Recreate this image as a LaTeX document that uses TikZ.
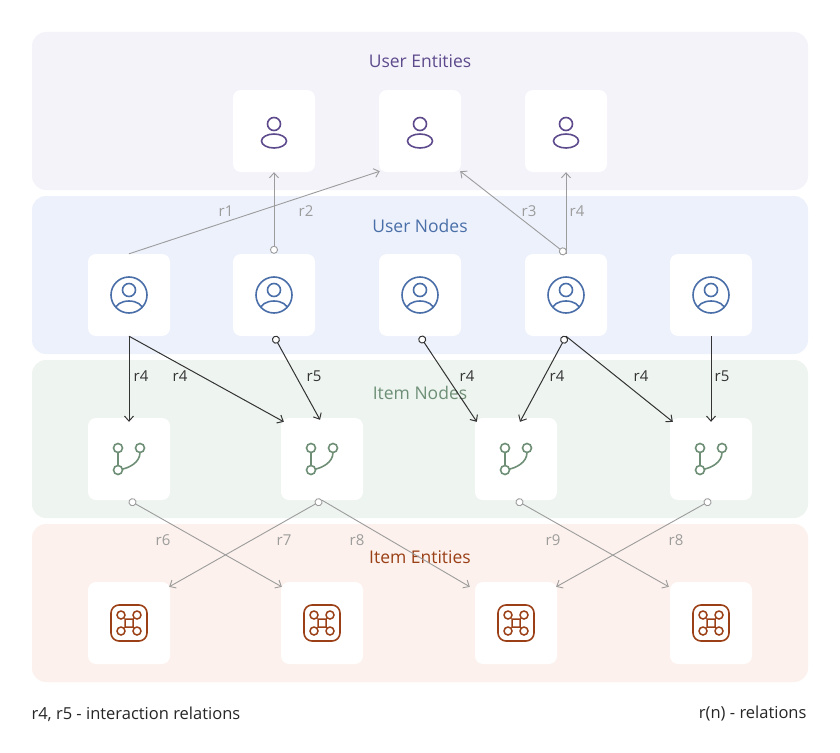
\documentclass[tikz,border=0pt]{standalone}
\usepackage{fontspec}
\setmainfont{Open Sans}
\usetikzlibrary{arrows.meta, calc, backgrounds}

\definecolor{ueband}{HTML}{F5F3FA}
\definecolor{unband}{HTML}{EDF1FC}
\definecolor{inband}{HTML}{EEF4F0}
\definecolor{ieband}{HTML}{FCF1EC}
\definecolor{uecol}{HTML}{5D4A8C}
\definecolor{uncol}{HTML}{4A6FA8}
\definecolor{incol}{HTML}{6E8F76}
\definecolor{iecol}{HTML}{9A3F16}
\definecolor{relgray}{HTML}{9C9C9C}
\definecolor{reldark}{HTML}{333333}

\tikzset{
  band/.style={fill=#1, rounded corners=14pt, draw=none},
  box/.style={fill=white, rounded corners=8pt, minimum width=82pt, minimum height=82pt, inner sep=0pt},
  title/.style={font=\fontsize{17.5}{20}\selectfont, text=#1},
  rel/.style={font=\fontsize{15}{17}\selectfont, text=#1},
  soft/.style={draw=relgray, line width=0.9pt, -{Straight Barb[length=5pt,width=9pt]}},
  hard/.style={draw=reldark, line width=1pt, -{Straight Barb[length=5pt,width=9pt]}},
  dot/.style={{Circle[open,length=8pt,width=8pt,fill=white]}-{Straight Barb[length=5pt,width=9pt]}},
  foot/.style={font=\fontsize{16.5}{19}\selectfont, text=black!85}
}

\begin{document}
\begin{tikzpicture}[x=1pt, y=-1pt]
  \useasboundingbox (0,0) rectangle (840,752);
  \fill[white] (0,0) rectangle (840,752);

  % bands
  \fill[band=ueband] (32,32) rectangle (808,190);
  \fill[band=unband] (32,196) rectangle (808,354);
  \fill[band=inband] (32,360) rectangle (808,518);
  \fill[band=ieband] (32,524) rectangle (808,682);

  \node[title=uecol] (tue) at (420,61) {User Entities};
  \node[title=uncol] (tun) at (420,226) {User Nodes};
  \node[title=incol] (tin) at (420,393) {Item Nodes};
  \node[title=iecol] (tie) at (420,557) {Item Entities};

  % boxes
  \foreach \n/\x in {1/274, 2/420, 3/566} {
    \node[box] (ue\n) at (\x,131) {};
    \draw[uecol, line width=1.6pt] ($(ue\n)+(0,-7)$) circle (6.5);
    \draw[uecol, line width=1.6pt] ($(ue\n)+(0,10)$) ellipse (12.5 and 7);
  }
  \foreach \n/\x in {1/129, 2/274, 3/420, 4/566, 5/711} {
    \node[box] (un\n) at (\x,295) {};
    \draw[uncol, line width=1.6pt] (un\n) circle (18);
    \draw[uncol, line width=1.6pt] ($(un\n)+(0,-5)$) circle (6.5);
    \begin{scope}
      \clip (un\n) circle (18);
      \draw[uncol, line width=1.6pt] ($(un\n)+(0,15)$) ellipse (14 and 9);
    \end{scope}
  }
  \foreach \n/\x in {1/129, 2/322, 3/516, 4/711} {
    \node[box] (in\n) at (\x,459) {};
    \draw[incol, line width=1.6pt]
      ($(in\n)+(-11,-11)$) circle (4.5) ($(in\n)+(11,-11)$) circle (4.5) ($(in\n)+(-11,11)$) circle (4.5)
      ($(in\n)+(-11,-6.5)$) -- ($(in\n)+(-11,6.5)$)
      ($(in\n)+(11,-6.5)$) .. controls ($(in\n)+(11,4)$) and ($(in\n)+(-1,9)$) .. ($(in\n)+(-6.5,10)$);
    \node[box] (ie\n) at (\x,623) {};
    \draw[iecol, line width=1.6pt, rounded corners=8pt] ($(ie\n)+(-18,-18)$) rectangle ($(ie\n)+(18,18)$);
    \draw[iecol, line width=1.5pt]
      ($(ie\n)+(-4,-4)$) rectangle ($(ie\n)+(4,4)$)
      ($(ie\n)+(-8,-8)$) circle (4) ($(ie\n)+(8,-8)$) circle (4)
      ($(ie\n)+(-8,8)$) circle (4) ($(ie\n)+(8,8)$) circle (4);
  }

  % user nodes -> user entities
  \draw[soft] (un1.north) -- ([xshift=1pt,yshift=1pt]ue2.south west);
  \draw[soft, dot] (un2.north) -- (ue1.south);
  \draw[soft, dot] (un4.north) -- ([xshift=-1pt,yshift=1pt]ue2.south east);
  \draw[soft] (un4.north) -- (ue3.south);
  \node[rel=relgray] (l1) at (226,211) {r1};
  \node[rel=relgray] (l2) at (306,211) {r2};
  \node[rel=relgray] (l3) at (529,211) {r3};
  \node[rel=relgray] (l4) at (577,211) {r4};

  % user nodes -> item nodes
  \draw[hard] (un1.south) -- ([yshift=-4pt]in1.north);
  \draw[hard] (un1.south) -- ([xshift=3pt,yshift=-4pt]in2.north west);
  \draw[hard, dot] (un2.south) -- ([xshift=-2pt,yshift=-2pt]in2.north);
  \draw[hard, dot] (un3.south) -- ([xshift=2pt,yshift=-4pt]in3.north west);
  \draw[hard, dot] (un4.south) -- ([xshift=4pt,yshift=-4pt]in3.north);
  \draw[hard] (un4.south) -- ([xshift=3pt,yshift=-4pt]in4.north west);
  \draw[hard] (un5.south) -- ([yshift=-4pt]in4.north);
  \node[rel=reldark] (l5) at (141,376) {r4};
  \node[rel=reldark] (l6) at (180,376) {r4};
  \node[rel=reldark] (l7) at (314,376) {r5};
  \node[rel=reldark] (l8) at (467,376) {r4};
  \node[rel=reldark] (l9) at (557,376) {r4};
  \node[rel=reldark] (l10) at (641,376) {r4};
  \node[rel=reldark] (l11) at (722,376) {r5};

  % item nodes -> item entities
  \draw[soft, dot] (in1.south) -- ([xshift=1pt,yshift=-5pt]ie2.north west);
  \draw[soft, dot] (in2.south) -- ([xshift=-1pt,yshift=-5pt]ie1.north east);
  \draw[soft] (in2.south) -- ([xshift=-5pt,yshift=-5pt]ie3.north west);
  \draw[soft, dot] (in3.south) -- ([xshift=-1pt,yshift=-5pt]ie4.north west);
  \draw[soft, dot] (in4.south) -- ([xshift=-1pt,yshift=-5pt]ie3.north east);
  \node[rel=relgray] (l12) at (163,540) {r6};
  \node[rel=relgray] (l13) at (284,540) {r7};
  \node[rel=relgray] (l14) at (357,540) {r8};
  \node[rel=relgray] (l15) at (553,540) {r9};
  \node[rel=relgray] (l16) at (676,540) {r8};

  % footer
  \node[foot, anchor=west] (fl) at (28,714) {r4, r5 - interaction relations};
  \node[foot, anchor=east] (fr) at (810,714) {r(n) - relations};
\end{tikzpicture}
\end{document}
